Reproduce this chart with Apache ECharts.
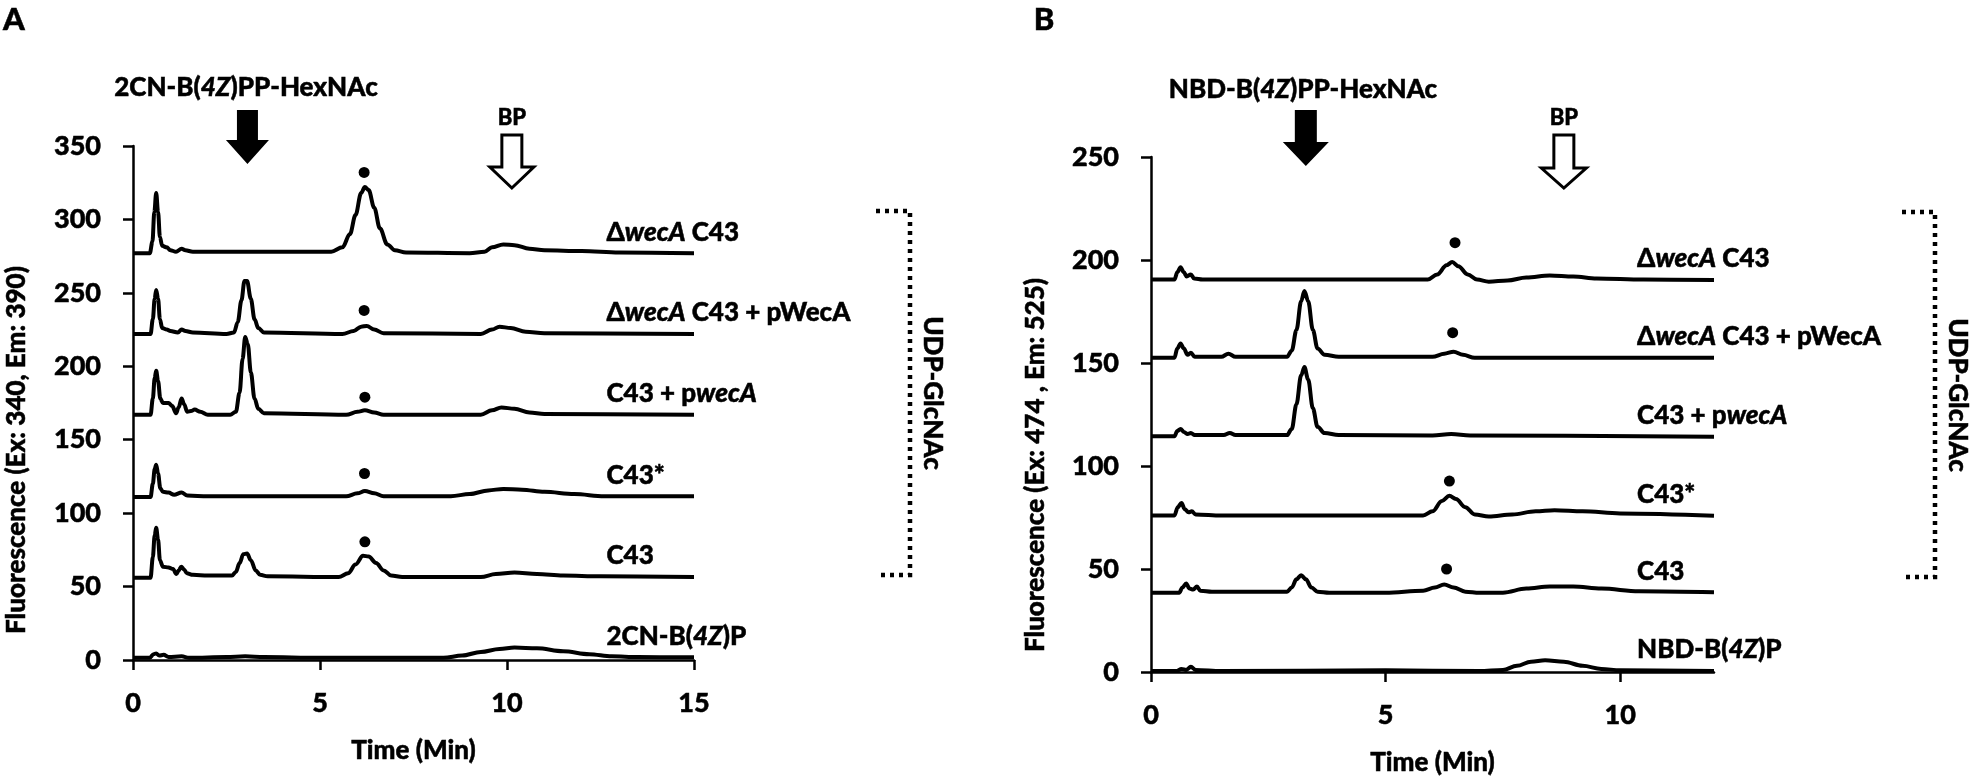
<!DOCTYPE html>
<html>
<head>
<meta charset="utf-8">
<script src="https://cdn.jsdelivr.net/npm/echarts@6/dist/echarts.min.js"></script>
<style>
  html, body { margin: 0; padding: 0; background: #fff; }
  #chart { width: 1971px; height: 782px; }
</style>
</head>
<body>
<div id="chart"></div>
<script>
// Cromatogrammi HPLC, pannello A (2CN) e pannello B (NBD).
// Valori letti a occhio dal grafico: [tempo (min), fluorescenza].

// --- pannello A ---
const aDeltaWecA = [[0,277],[0.45,277],[0.52,285],[0.57,305],[0.62,318],[0.67,305],[0.72,288],[0.78,282],[0.9,281],[1.0,279],[1.15,278],[1.3,280],[1.4,279],[1.6,278],[3,278],[5.3,278],[5.6,281],[5.8,290],[5.95,303],[6.1,318],[6.2,322],[6.3,320],[6.45,308],[6.6,294],[6.8,283],[7.0,279],[7.3,277.5],[9.0,277],[9.4,278],[9.6,281],[9.9,283],[10.2,282.5],[10.6,280],[11.0,279],[12,278.5],[13,277.5],[15,277]];
const aDeltaWecAPlus = [[0,222],[0.47,222],[0.53,232],[0.58,246],[0.62,252],[0.67,246],[0.72,232],[0.78,226],[0.9,225],[1.0,224],[1.2,223],[1.3,225],[1.4,224],[1.6,223],[2.5,222],[2.7,223],[2.8,230],[2.9,245],[2.98,258],[3.05,258],[3.15,246],[3.25,232],[3.35,226],[3.5,223],[5.6,222],[5.9,224],[6.1,227],[6.25,227.5],[6.45,225],[6.7,222.5],[9.3,222],[9.6,225],[9.8,227],[10.1,226],[10.5,223.5],[11,222.5],[15,222]];
const aC43Plus = [[0,167],[0.47,167],[0.53,178],[0.58,192],[0.62,197],[0.67,190],[0.73,178],[0.8,175],[0.95,175],[1.05,173],[1.15,168],[1.22,172],[1.3,178],[1.37,174],[1.45,169],[1.55,169.5],[1.65,170.5],[1.8,169],[2.0,167],[2.6,167],[2.75,169],[2.85,182],[2.93,205],[3.0,220],[3.07,215],[3.15,196],[3.25,178],[3.35,171],[3.5,168],[5.7,167],[6.0,169],[6.2,170],[6.45,168.5],[6.7,167],[9.3,167],[9.6,170],[9.85,172],[10.2,171],[10.6,168.5],[11,167.5],[15,167]];
const aC43Star = [[0,111],[0.47,111],[0.53,120],[0.58,130],[0.62,133],[0.67,127],[0.73,117],[0.8,114.5],[0.95,114],[1.1,112.5],[1.3,114],[1.45,112],[2,111.5],[5.7,111.5],[6.0,113.5],[6.2,115],[6.45,113.5],[6.7,111.5],[8.5,111.5],[9.0,113],[9.5,115.5],[9.9,116.5],[10.4,116],[11,114.5],[11.8,113],[12.6,111.5],[15,111.5]];
const aC43 = [[0,56],[0.47,56],[0.53,70],[0.58,85],[0.62,90],[0.67,82],[0.72,68],[0.8,63.5],[0.95,63],[1.07,62],[1.16,58.5],[1.22,61],[1.29,63.5],[1.37,61.5],[1.44,59],[1.6,58],[2.0,57.5],[2.65,57.5],[2.75,60],[2.85,66],[2.95,72],[3.05,72.5],[3.15,68],[3.28,61],[3.4,58],[3.6,57],[5.5,56.5],[5.75,59],[5.95,65],[6.15,71],[6.3,70.5],[6.5,66],[6.7,61],[6.9,57.5],[7.2,56.5],[9.3,56.5],[9.7,58.5],[10.2,59.5],[10.8,58.5],[11.5,57.5],[12.5,57],[15,56.5]];
const aStandard = [[0,1.5],[0.45,1.5],[0.55,4],[0.62,4.5],[0.7,3],[0.82,3.5],[0.95,2],[1.3,2.5],[1.5,1.5],[2.5,2],[3.0,2.5],[3.5,2],[5,1.5],[8.3,1.5],[8.8,3],[9.3,5.5],[9.8,7.5],[10.2,8.5],[10.8,8],[11.5,6],[12.2,4],[12.8,2.5],[13.5,2],[15,1.8]];
const aDots = [[6.18,332],[6.18,238],[6.2,179],[6.19,127],[6.2,80.5]];

// --- pannello B ---
const bDeltaWecA = [[0,190.5],[0.5,190.5],[0.56,194],[0.63,196.5],[0.7,194],[0.76,192],[0.85,193],[0.92,191],[1.1,190.5],[5.9,190.5],[6.1,193],[6.3,197.5],[6.42,199],[6.55,197],[6.75,193],[6.95,190.5],[7.2,189.5],[7.6,190],[8.0,191.5],[8.5,192.5],[9.0,192],[9.5,191],[10.5,190.5],[12,190.3]];
const bDeltaWecAPlus = [[0,152.5],[0.5,152.5],[0.56,157],[0.63,159.5],[0.7,157],[0.78,154],[0.85,155],[0.93,153],[1.5,153],[1.65,154.5],[1.8,153],[2.9,153],[3.0,156],[3.1,166],[3.2,180],[3.27,185],[3.35,180],[3.45,166],[3.55,157],[3.7,154],[4.0,153],[6.0,153],[6.25,154.5],[6.45,155.5],[6.65,154],[6.9,152.5],[12,152.5]];
const bC43Plus = [[0,114.5],[0.5,114.5],[0.56,117],[0.63,118],[0.7,116.5],[0.78,115.5],[0.85,116],[0.93,115],[1.55,115],[1.68,116],[1.8,115],[2.9,115],[3.0,118],[3.1,130],[3.2,144],[3.27,148],[3.35,142],[3.45,128],[3.55,119],[3.7,116],[4.0,115],[6.0,114.8],[6.4,115.5],[6.8,114.8],[12,114.2]];
const bC43Star = [[0,76],[0.5,76],[0.57,80],[0.65,82],[0.72,79],[0.8,77.5],[0.87,78],[0.95,76.5],[1.5,76],[5.8,76],[6.0,78],[6.2,83],[6.36,85.5],[6.5,84],[6.7,80],[6.9,76.5],[7.2,75.5],[7.7,76.5],[8.2,78],[8.6,78.5],[9.2,78],[10,77],[12,75.9]];
const bC43 = [[0,38.5],[0.6,38.5],[0.67,41],[0.75,43],[0.82,40.5],[0.9,40],[0.98,41.5],[1.05,39.5],[1.3,39],[2.9,39],[3.0,41],[3.1,45],[3.2,47],[3.3,45],[3.42,41],[3.55,39],[3.8,38.5],[5.0,38.5],[5.8,39.5],[6.05,41],[6.25,42.5],[6.45,41],[6.7,39],[7.0,38.5],[7.5,38.5],[8.0,40.5],[8.5,41.5],[9.0,41.5],[9.6,40.5],[10.4,39.2],[12,38.7]];
const bStandard = [[0,0.5],[0.55,0.5],[0.65,1.5],[0.75,1],[0.85,2.5],[0.95,1],[1.5,0.5],[5,0.8],[7.0,0.5],[7.5,1],[7.8,3],[8.1,5],[8.4,5.7],[8.8,5],[9.2,3],[9.6,1.5],[10,0.8],[12,0.5]];
const bDots = [[6.48,208.4],[6.43,164.7],[6.36,92.7],[6.3,50]];

// etichette delle tracce (rich text: {i|...} = corsivo)
const aLabels = ['Δ{i|wecA} C43', 'Δ{i|wecA} C43 + pWecA', 'C43 + p{i|wecA}', 'C43*', 'C43', '2CN-B({i|4Z})P'];
const bLabels = ['Δ{i|wecA} C43', 'Δ{i|wecA} C43 + pWecA', 'C43 + p{i|wecA}', 'C43*', 'C43', 'NBD-B({i|4Z})P'];
const aTraces = [aDeltaWecA, aDeltaWecAPlus, aC43Plus, aC43Star, aC43, aStandard];
const bTraces = [bDeltaWecA, bDeltaWecAPlus, bC43Plus, bC43Star, bC43, bStandard];
const labelTime = [12.66, 10.36];

// frecce: prodotto (piena) e BP (vuota), in minuti
const productArrowTime = [3.06, 3.3];
const bpArrowTime = [10.13, 8.8];

const xTicksA = [0, 5, 10, 15];
const xTicksB = [0, 5, 10];

const FONT = 'Lato';
const WEIGHT = 900;
const rich = {
  i: { fontStyle: 'italic', fontWeight: WEIGHT, fontSize: 26, fontFamily: FONT, fill: '#000',
    stroke: '#000', lineWidth: 0.5 }
};

function xAxisOf(grid, max, ticks) {
  return {
    type: 'value', gridIndex: grid, min: 0, max: max, interval: 5,
    name: 'Time (Min)', nameLocation: 'middle', nameGap: 78,
    nameTextStyle: { fontFamily: FONT, fontWeight: WEIGHT, fontSize: 26, color: '#000',
      textBorderColor: '#000', textBorderWidth: 0.5 },
    axisLine: { lineStyle: { color: '#000', width: 2.5 } },
    axisTick: { show: true, length: 10, lineStyle: { color: '#000', width: 2.5 }, customValues: ticks },
    axisLabel: { color: '#000', fontFamily: FONT, fontWeight: WEIGHT, fontSize: 27, margin: 30,
      textBorderColor: '#000', textBorderWidth: 0.5, customValues: ticks },
    splitLine: { show: false }
  };
}

function yAxisOf(grid, max) {
  return {
    type: 'value', gridIndex: grid, min: 0, max: max, interval: 50,
    axisLine: { show: true, lineStyle: { color: '#000', width: 2.5 } },
    axisTick: { show: true, length: 10, lineStyle: { color: '#000', width: 2.5 } },
    axisLabel: { color: '#000', fontFamily: FONT, fontWeight: WEIGHT, fontSize: 27, margin: 32,
      textBorderColor: '#000', textBorderWidth: 0.5 },
    splitLine: { show: false }
  };
}

function lineSeries(data, idx) {
  return {
    type: 'line', xAxisIndex: idx, yAxisIndex: idx, data: data,
    showSymbol: false, smooth: 0.35, smoothMonotone: 'x',
    lineStyle: { color: '#000', width: 4 }, silent: true
  };
}

const series = [];
aTraces.forEach(d => series.push(lineSeries(d, 0)));
bTraces.forEach(d => series.push(lineSeries(d, 1)));
[aDots, bDots].forEach((d, i) => series.push({
  type: 'scatter', xAxisIndex: i, yAxisIndex: i, data: d, symbolSize: 11, silent: true,
  itemStyle: { color: '#000', opacity: 1 }
}));

const chart = echarts.init(document.getElementById('chart'));
chart.setOption({
  backgroundColor: '#fff',
  animation: false,
  grid: [
    { left: 133, top: 146, width: 561, height: 514 },
    { left: 1151, top: 157, width: 563, height: 515 }
  ],
  xAxis: [xAxisOf(0, 15, xTicksA), xAxisOf(1, 12, xTicksB)],
  yAxis: [yAxisOf(0, 350), yAxisOf(1, 250)],
  series: series
});

// ---- annotazioni (testi, frecce, parentesi) ----
function txt(x, y, text, size, opts) {
  return Object.assign({
    type: 'text', x: x, y: y, silent: true,
    style: { text: text, fontFamily: FONT, fontWeight: WEIGHT, fontSize: size || 26, fill: '#000',
      stroke: '#000', lineWidth: 0.5,
      align: 'center', verticalAlign: 'middle', rich: rich }
  }, opts || {});
}

function arrowPoints(cx, top, headY, tip, sw, hw) {
  return [[cx - sw, top], [cx + sw, top], [cx + sw, headY], [cx + hw, headY], [cx, tip], [cx - hw, headY], [cx - sw, headY]];
}

function filledArrow(cx, top, headY, tip, sw, hw) {
  return { type: 'polygon', silent: true,
    shape: { points: arrowPoints(cx, top, headY, tip, sw, hw) },
    style: { fill: '#000' } };
}

function hollowArrow(cx, top, headY, tip, sw, hw) {
  return { type: 'polygon', silent: true,
    shape: { points: arrowPoints(cx, top, headY, tip, sw, hw) },
    style: { fill: '#fff', stroke: '#000', lineWidth: 3, lineJoin: 'miter' } };
}

function bracket(x0, x1, y0, y1) {
  return { type: 'polyline', silent: true,
    shape: { points: [[x0, y0], [x1, y0], [x1, y1], [x0, y1]] },
    style: { stroke: '#000', lineWidth: 4.5, lineDash: [4, 5], fill: null } };
}

const graphic = [];
graphic.push(txt(14, 20, 'A', 31));
graphic.push(txt(1044, 20, 'B', 31));

[aTraces, bTraces].forEach((traces, g) => {
  const labels = g === 0 ? aLabels : bLabels;
  traces.forEach((d, i) => {
    const p = chart.convertToPixel({ gridIndex: g }, [labelTime[g], d[d.length - 1][1]]);
    const t = txt(p[0], p[1] - 21, labels[i], 26);
    t.style.align = 'left';
    graphic.push(t);
  });
});

// titoli dei prodotti e frecce
const pa = chart.convertToPixel({ gridIndex: 0 }, [productArrowTime[0], 0]);
const pb = chart.convertToPixel({ gridIndex: 1 }, [productArrowTime[1], 0]);
const ba = chart.convertToPixel({ gridIndex: 0 }, [bpArrowTime[0], 0]);
const bb = chart.convertToPixel({ gridIndex: 1 }, [bpArrowTime[1], 0]);
graphic.push(txt(246, 88, '2CN-B({i|4Z})PP-HexNAc', 26));
graphic.push(txt(1303, 90, 'NBD-B({i|4Z})PP-HexNAc', 26));
graphic.push(filledArrow(pa[0], 110, 140, 164, 10.5, 21.5));
graphic.push(filledArrow(pb[0], 110, 142, 166, 11, 23));
graphic.push(txt(ba[0], 118, 'BP', 22));
graphic.push(txt(bb[0], 118, 'BP', 22));
graphic.push(hollowArrow(ba[0], 135, 167, 188, 10, 22));
graphic.push(hollowArrow(bb[0], 135, 168, 188, 10, 22.5));

// titoli asse y
graphic.push(txt(17, 450, 'Fluorescence (Ex: 340, Em: 390)', 26, { rotation: Math.PI / 2 }));
graphic.push(txt(1036, 465, 'Fluorescence (Ex: 474 , Em: 525)', 26, { rotation: Math.PI / 2 }));

// parentesi UDP-GlcNAc
graphic.push(bracket(876, 910, 211, 575));
graphic.push(bracket(1902, 1935, 212, 577));
graphic.push(txt(932, 393, 'UDP-GlcNAc', 26, { rotation: -Math.PI / 2 }));
graphic.push(txt(1957, 395, 'UDP-GlcNAc', 26, { rotation: -Math.PI / 2 }));

chart.setOption({ graphic: graphic });
</script>
</body>
</html>
